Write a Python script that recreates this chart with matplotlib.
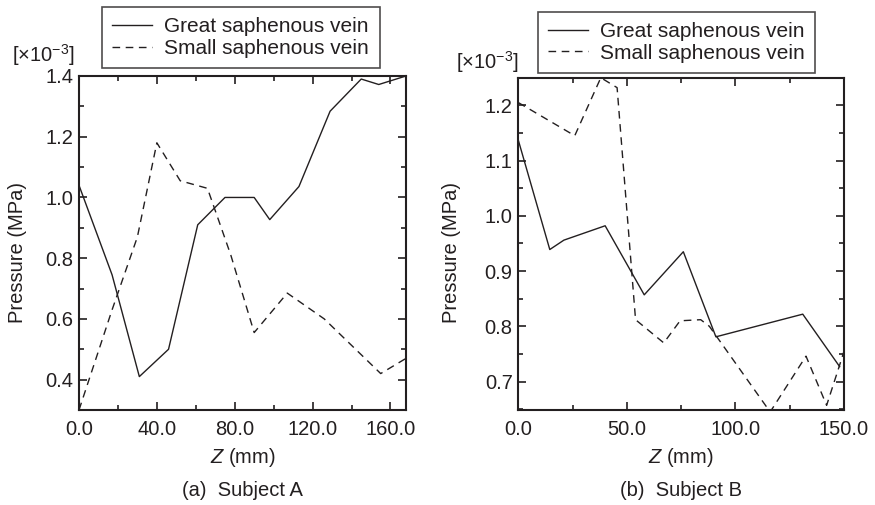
import matplotlib
matplotlib.use("Agg")
import matplotlib.pyplot as plt
from matplotlib.ticker import MultipleLocator, FormatStrFormatter

plt.rcParams['font.family'] = ['Liberation Sans', 'DejaVu Sans']
plt.rcParams['mathtext.fontset'] = 'custom'
plt.rcParams['mathtext.rm'] = 'Liberation Sans'
plt.rcParams['mathtext.it'] = 'Liberation Sans:italic'

# ---- data ----
A_great_z = [0, 17, 31, 46, 61, 75, 90, 98, 113, 129, 145, 154, 168]
A_great_p = [1.04, 0.745, 0.41, 0.50, 0.91, 1.00, 1.00, 0.927, 1.036, 1.284, 1.39, 1.372, 1.40]
A_small_z = [0, 17, 30, 40, 52, 66, 78, 90, 107, 126, 155, 168]
A_small_p = [0.30, 0.63, 0.87, 1.18, 1.055, 1.03, 0.81, 0.555, 0.685, 0.60, 0.42, 0.47]

B_great_z = [0, 14.5, 21, 40, 58, 76, 91, 131, 148]
B_great_p = [1.137, 0.939, 0.956, 0.982, 0.857, 0.935, 0.781, 0.822, 0.727]
B_small_z = [0, 26, 38, 45.5, 54, 67, 74.5, 84, 88, 116, 132.5, 142, 148, 150]
B_small_p = [1.205, 1.145, 1.25, 1.232, 0.812, 0.77, 0.81, 0.812, 0.80, 0.645, 0.746, 0.657, 0.73, 0.755]

series_labels = ["Great saphenous vein", "Small saphenous vein"]
captions = ["(a)  Subject A", "(b)  Subject B"]
x_label = r"$\mathit{Z}$ (mm)"
y_label = "Pressure (MPa)"
scale_note = r"[$\times$10$^{-3}$]"

INK = '#231f20'
FS = 14.5

fig = plt.figure(figsize=(8.75, 5.05), dpi=100)
W, H = 875, 505

def px_axes(l, t, r, b):
    return fig.add_axes([l / W, 1 - b / H, (r - l) / W, (b - t) / H])

axA = px_axes(79, 76, 406, 410)
axB = px_axes(518.3, 77.7, 844, 410.3)

panels = [
    (axA, A_great_z, A_great_p, A_small_z, A_small_p, (0, 168), (0.3, 1.4), 40, 20, 0.2, 0.1),
    (axB, B_great_z, B_great_p, B_small_z, B_small_p, (0, 150), (0.648, 1.25), 50, 25, 0.1, 0.05),
]

legend_pos = [(102 / W, 1 - 7 / H), (537.7 / W, 1 - 11.7 / H)]
note_pos = [(12 / W, 1 - 55 / H), (456 / W, 1 - 62 / H)]
ylabel_x = [27 / W, 461 / W]

for i, (ax, gz, gp, sz, sp, xl, yl, xmaj, xmin, ymaj, ymin) in enumerate(panels):
    ax.plot(gz, gp, color=INK, lw=1.0, label=series_labels[0])
    ax.plot(sz, sp, color=INK, lw=1.0, linestyle=(0, (5.5, 4.0)), label=series_labels[1])
    ax.set_xlim(*xl)
    ax.set_ylim(*yl)
    ax.xaxis.set_major_locator(MultipleLocator(xmaj))
    ax.xaxis.set_minor_locator(MultipleLocator(xmin))
    ax.yaxis.set_major_locator(MultipleLocator(ymaj))
    ax.yaxis.set_minor_locator(MultipleLocator(ymin))
    ax.xaxis.set_major_formatter(FormatStrFormatter('%.1f'))
    ax.yaxis.set_major_formatter(FormatStrFormatter('%.1f'))
    ax.tick_params(which='both', direction='in', top=True, right=True, color=INK, width=1.2)
    ax.tick_params(which='major', length=6, labelsize=FS, labelcolor=INK)
    ax.tick_params(which='minor', length=3.5)
    ax.tick_params(axis='x', which='major', pad=7)
    ax.tick_params(axis='y', which='major', pad=4)
    for s in ax.spines.values():
        s.set_linewidth(1.5)
        s.set_color(INK)
    ax.set_xlabel(x_label, fontsize=FS, color=INK, labelpad=5)
    ax.set_ylabel(y_label, fontsize=FS, color=INK)
    ax.yaxis.set_label_coords(ylabel_x[i], 0.5, transform=fig.transFigure)
    leg = ax.legend(loc='upper left', bbox_to_anchor=legend_pos[i], bbox_transform=fig.transFigure,
                    borderaxespad=0, frameon=True, fancybox=False, fontsize=15,
                    handlelength=1.9, handletextpad=0.6, labelspacing=0.12, borderpad=0.5)
    leg.get_frame().set_edgecolor(INK)
    leg.get_frame().set_linewidth(1.2)
    for t in leg.get_texts():
        t.set_color(INK)
    fig.text(note_pos[i][0], note_pos[i][1], scale_note, fontsize=14.5, color=INK, va='center', ha='left')
    pos = ax.get_position()
    fig.text((pos.x0 + pos.x1) / 2, 15 / H, captions[i], fontsize=FS, color=INK, ha='center', va='center')

fig.savefig('out.png', dpi=100)
